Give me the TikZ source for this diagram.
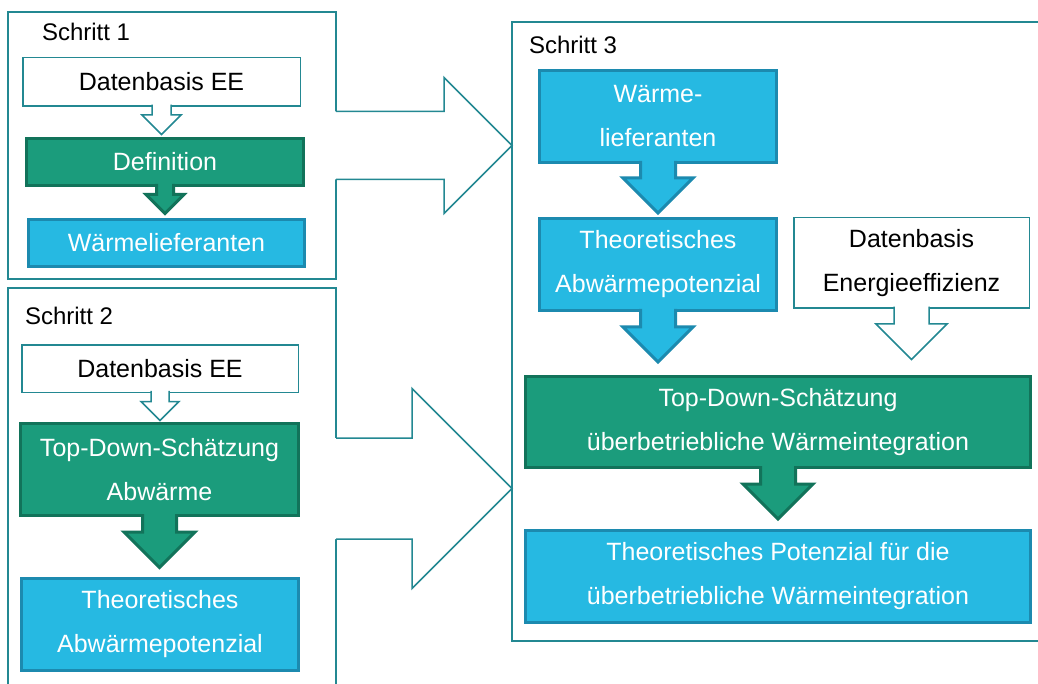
\documentclass[tikz,border=0pt]{standalone}
\usepackage{fontspec}
\setmainfont{Liberation Sans}
\usetikzlibrary{calc}

\definecolor{frameteal}{RGB}{35,136,146}
\definecolor{boxgreen}{RGB}{27,156,124}
\definecolor{boxgreenedge}{RGB}{18,115,90}
\definecolor{boxblue}{RGB}{38,185,226}
\definecolor{boxblueedge}{RGB}{28,138,175}

\tikzset{
  stepframe/.style={draw=frameteal, line width=1.5pt, fill=none, inner sep=0pt, outer sep=0pt},
  flowbox/.style={inner sep=0pt, outer sep=0pt, align=center, font=\fontsize{25}{44}\selectfont},
  whitebox/.style={flowbox, draw=frameteal, line width=1.5pt, fill=white, text=black},
  greenbox/.style={flowbox, draw=boxgreenedge, line width=3pt, fill=boxgreen, text=white},
  bluebox/.style={flowbox, draw=boxblueedge, line width=3pt, fill=boxblue, text=white},
  steplabel/.style={anchor=west, inner sep=0pt, outer sep=0pt, text=black, font=\fontsize{24}{28}\selectfont},
  hollowarrow/.style={draw=frameteal, fill=white, line width=1.5pt, line join=miter},
  greenarrow/.style={draw=boxgreenedge, fill=boxgreen, line width=3pt, line join=miter},
  bluearrow/.style={draw=boxblueedge, fill=boxblue, line width=3pt, line join=miter},
  bigarrow/.style={draw=frameteal, line width=1.5pt, line join=miter},
}

% Block arrow pointing down from one box towards another.
% #1 source, #2 target, #3 shaft half width, #4 head half width,
% #5 gap between tip and target, #6 style
\newcommand\downblock[6]{%
  \coordinate (dbS) at (#1.south);
  \coordinate (dbT) at ($(#1.south |- #2.north)+(0,-#5)$);
  \path[#6, draw=none]
    ($(dbS)+(-#3,-2)$) -- ($(dbT)+(-#3,-#4)$) -- ($(dbT)+(-#4,-#4)$) -- (dbT)
    -- ($(dbT)+(#4,-#4)$) -- ($(dbT)+(#3,-#4)$) -- ($(dbS)+(#3,-2)$) -- cycle;
  \path[#6, fill=none]
    ($(dbS)+(-#3,-1.5)$) -- ($(dbT)+(-#3,-#4)$) -- ($(dbT)+(-#4,-#4)$) -- (dbT)
    -- ($(dbT)+(#4,-#4)$) -- ($(dbT)+(#3,-#4)$) -- ($(dbS)+(#3,-1.5)$);
}

% Large open arrow leading from one step frame to the next.
% #1 source frame, #2 target frame, #3 shaft half width, #4 head half width
\newcommand\bigright[4]{%
  \coordinate (brS) at (#1.east);
  \coordinate (brT) at (#2.west |- #1.east);
  \fill[white]
    ($(brS)+(-3,-#3)$) -- ($(brT)+(-#4,-#3)$) -- ($(brT)+(-#4,-#4)$) -- (brT)
    -- ($(brT)+(-#4,#4)$) -- ($(brT)+(-#4,#3)$) -- ($(brS)+(-3,#3)$) -- cycle;
  \draw[bigarrow]
    ($(brS)+(0,-#3)$) -- ($(brT)+(-#4,-#3)$) -- ($(brT)+(-#4,-#4)$) -- (brT)
    -- ($(brT)+(-#4,#4)$) -- ($(brT)+(-#4,#3)$) -- ($(brS)+(0,#3)$);
}

\begin{document}
\begin{tikzpicture}[x=1pt,y=-1pt]
  \useasboundingbox (0,0) rectangle (1038,684);
  \clip (0,0) rectangle (1038,684);
  \fill[white] (0,0) rectangle (1038,684);

  % step frames
  \node[stepframe, minimum width=328pt, minimum height=267pt] (s1) at (172,145.5) {};
  \node[stepframe, minimum width=328pt, minimum height=401pt] (s2) at (172,488.5) {};
  \node[stepframe, minimum width=534pt, minimum height=619pt] (s3) at (779,331.5) {};

  % transitions between the steps
  \bigright{s1}{s3}{34}{68}
  \bigright{s2}{s3}{50.5}{100}

  % step 1
  \node[steplabel] (l1) at (42,32) {Schritt 1};
  \node[whitebox, minimum width=277.5pt, minimum height=48.5pt] (d1) at (161.5,82) {Datenbasis EE};
  \node[greenbox, minimum width=277pt, minimum height=47pt] (def) at (165,162) {Definition};
  \node[bluebox, minimum width=276pt, minimum height=47pt] (wl) at (166.5,243) {Wärmelieferanten};

  % step 2
  \node[steplabel] (l2) at (25,316) {Schritt 2};
  \node[whitebox, minimum width=276.5pt, minimum height=47.5pt] (d2) at (160,368.5) {Datenbasis EE};
  \node[greenbox, minimum width=278pt, minimum height=92pt] (td) at (159.5,469.5) {Top-Down-Schätzung\\Abwärme};
  \node[bluebox, minimum width=277pt, minimum height=92pt] (tap) at (160,624.5) {Theoretisches\\Abwärmepotenzial};

  % step 3
  \node[steplabel] (l3) at (529,45) {Schritt 3};
  \node[bluebox, minimum width=237pt, minimum height=92pt] (wl3) at (658,116.5) {Wärme-\\lieferanten};
  \node[bluebox, minimum width=237pt, minimum height=92pt] (tap3) at (658,264.5) {Theoretisches\\Abwärmepotenzial};
  \node[whitebox, minimum width=235.5pt, minimum height=90.5pt] (dee) at (911.5,263) {Datenbasis\\Energieeffizienz};
  \node[greenbox, minimum width=505pt, minimum height=91pt] (td3) at (778,422) {Top-Down-Schätzung\\überbetriebliche Wärmeintegration};
  \node[bluebox, minimum width=505pt, minimum height=92pt] (tp3) at (778,576.5) {Theoretisches Potenzial für die\\überbetriebliche Wärmeintegration};

  % flow arrows inside the steps
  \downblock{d1}{def}{9.5}{19.5}{4}{hollowarrow}
  \downblock{def}{wl}{8.5}{19}{6}{greenarrow}
  \downblock{d2}{td}{9}{19}{3}{hollowarrow}
  \downblock{td}{tap}{17}{35.5}{11}{greenarrow}
  \downblock{wl3}{tap3}{17.5}{35}{5.5}{bluearrow}
  \downblock{tap3}{td3}{17.5}{35}{14.5}{bluearrow}
  \downblock{dee}{td3}{17.5}{35.5}{17}{hollowarrow}
  \downblock{td3}{tp3}{17.5}{35}{11.5}{greenarrow}
\end{tikzpicture}
\end{document}
